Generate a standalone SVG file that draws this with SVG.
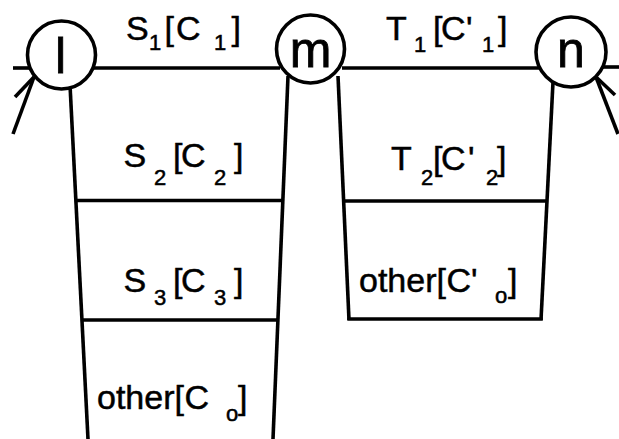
<svg xmlns="http://www.w3.org/2000/svg" width="619" height="439" viewBox="0 0 619 439">
<style>
.ln{stroke:#000;stroke-width:3.6;fill:none;stroke-linecap:butt}
.nd{fill:#fff;stroke:#000;stroke-width:3.6}
.t{font-family:"Liberation Sans",Arial,Helvetica,sans-serif;font-size:34px;fill:#000;stroke:#000;stroke-width:0.5}
.s{font-size:22px}
.big{font-family:"Liberation Sans",Arial,Helvetica,sans-serif;font-size:50px;fill:#000;stroke:#000;stroke-width:0.8;text-anchor:middle}
</style>
<rect width="619" height="439" fill="#fff"/>
<g id="connectors">
  <line class="ln" x1="13" y1="68" x2="31" y2="68"/>
  <line class="ln" x1="34" y1="77" x2="13" y2="134"/>
  <line class="ln" x1="34" y1="77" x2="15" y2="97"/>
  <line class="ln" x1="92" y1="68" x2="280" y2="68"/>
  <line class="ln" x1="342" y1="68" x2="540" y2="68"/>
  <line class="ln" x1="602" y1="67" x2="619" y2="67"/>
  <line class="ln" x1="596" y1="77" x2="618" y2="134"/>
  <line class="ln" x1="596" y1="77" x2="615" y2="95"/>
</g>
<g id="table-l">
  <line class="ln" x1="70" y1="85" x2="88" y2="439"/>
  <line class="ln" x1="288" y1="76" x2="273" y2="439"/>
  <line class="ln" x1="75.7" y1="200.5" x2="283" y2="200.5"/>
  <line class="ln" x1="82" y1="320" x2="278" y2="320"/>
  <text class="t"><tspan x="126" y="40">S</tspan><tspan class="s" x="149" y="50">1</tspan><tspan x="164.5" y="40">[</tspan><tspan x="176" y="40">C</tspan><tspan class="s" x="214" y="50">1</tspan><tspan x="231.5" y="40">]</tspan></text>
  <text class="t"><tspan x="123.5" y="167">S</tspan><tspan class="s" x="154" y="185">2</tspan><tspan x="173" y="167">[</tspan><tspan x="181" y="167">C</tspan><tspan class="s" x="214" y="185">2</tspan><tspan x="234" y="167">]</tspan></text>
  <text class="t"><tspan x="123.5" y="292">S</tspan><tspan class="s" x="154" y="305">3</tspan><tspan x="173" y="292">[</tspan><tspan x="181" y="292">C</tspan><tspan class="s" x="214" y="305">3</tspan><tspan x="234" y="292">]</tspan></text>
  <text class="t"><tspan x="97" y="409">other[</tspan><tspan x="184.5" y="409">C</tspan><tspan class="s" x="226" y="421">o</tspan><tspan x="238" y="409">]</tspan></text>
</g>
<g id="table-m">
  <line class="ln" x1="338" y1="76" x2="349" y2="320"/>
  <line class="ln" x1="553" y1="82" x2="541" y2="320"/>
  <line class="ln" x1="343.5" y1="201" x2="547" y2="201"/>
  <line class="ln" x1="347.3" y1="319" x2="542.8" y2="319"/>
  <text class="t"><tspan x="386" y="40">T</tspan><tspan class="s" x="414" y="52">1</tspan><tspan x="433" y="40">[</tspan><tspan x="441" y="40">C</tspan><tspan x="466" y="40">'</tspan><tspan class="s" x="482" y="52">1</tspan><tspan x="498" y="40">]</tspan></text>
  <text class="t"><tspan x="391" y="170">T</tspan><tspan class="s" x="421" y="185">2</tspan><tspan x="433" y="170">[</tspan><tspan x="441" y="170">C</tspan><tspan x="468" y="170">'</tspan><tspan class="s" x="486" y="185">2</tspan><tspan x="497" y="170">]</tspan></text>
  <text class="t"><tspan x="359" y="292">other[</tspan><tspan x="446.5" y="292">C</tspan><tspan x="471" y="292">'</tspan><tspan class="s" x="495" y="303">o</tspan><tspan x="508" y="292">]</tspan></text>
</g>
<g id="node-l">
  <circle class="nd" cx="61.5" cy="55" r="34"/>
  <text class="big" x="60.5" y="73">l</text>
</g>
<g id="node-m">
  <circle class="nd" cx="310.5" cy="49" r="34"/>
  <text class="big" x="310.5" y="67">m</text>
</g>
<g id="node-n">
  <circle class="nd" cx="571" cy="52" r="35"/>
  <text class="big" x="571" y="67">n</text>
</g>
</svg>
